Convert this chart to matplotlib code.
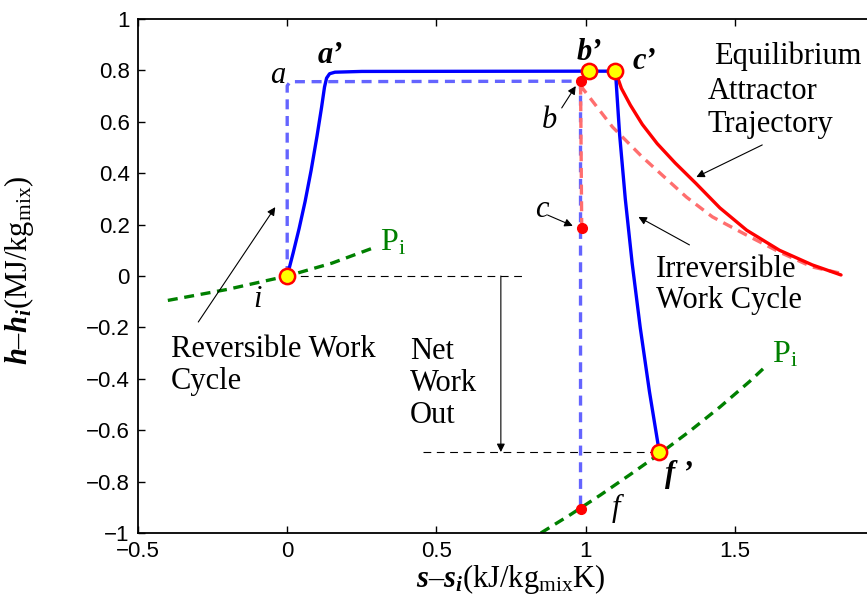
import matplotlib
matplotlib.use("Agg")
import matplotlib.pyplot as plt

plt.rcParams['mathtext.fontset'] = 'custom'
plt.rcParams['mathtext.rm'] = 'Liberation Serif'
plt.rcParams['mathtext.it'] = 'Liberation Serif:italic'
plt.rcParams['mathtext.bf'] = 'Liberation Serif:bold'
plt.rcParams['mathtext.bfit'] = 'Liberation Serif:bold:italic'

# ---------------- data ----------------
# reversible work cycle (dashed light blue): i -> a -> b -> f
rev_s = [0.0, 0.0, 0.01, 0.983, 0.983]
rev_h = [0.0, 0.74, 0.756, 0.758, -0.90]

# irreversible work cycle (solid blue): i -> a' -> b' -> c' -> f'
irr_s = [0.0, 0.02, 0.04, 0.06, 0.08, 0.10, 0.115, 0.125, 0.132, 0.142, 0.16,
         0.25, 1.01, 1.10, 1.114, 1.133, 1.156, 1.183, 1.214, 1.247]
irr_h = [0.0, 0.09, 0.185, 0.29, 0.41, 0.545, 0.655, 0.735, 0.77, 0.787, 0.793,
         0.796, 0.797, 0.797, 0.55, 0.30, 0.05, -0.20, -0.45, -0.685]

# equilibrium attractor trajectory (solid red)
eq_s = [1.10, 1.12, 1.15, 1.19, 1.24, 1.30, 1.37, 1.45, 1.54, 1.65, 1.76, 1.856]
eq_h = [0.797, 0.73, 0.665, 0.59, 0.515, 0.44, 0.36, 0.265, 0.178, 0.10, 0.043, 0.004]

# reversible path c -> b -> relaxation (dashed salmon)
rd_s = [0.987, 0.983, 0.99, 1.09, 1.19, 1.338, 1.425, 1.538, 1.65, 1.76, 1.85]
rd_h = [0.187, 0.758, 0.73, 0.58, 0.463, 0.307, 0.23, 0.16, 0.093, 0.035, 0.012]

# isobars P_i (dashed green)
p1_s = [-0.4, -0.2, 0.0, 0.15, 0.29]
p1_h = [-0.095, -0.052, 0.0, 0.05, 0.11]
p2_s = [0.85, 0.95, 1.05, 1.15, 1.25, 1.35, 1.45, 1.55, 1.605]
p2_h = [-1.0, -0.928, -0.852, -0.772, -0.69, -0.603, -0.51, -0.41, -0.35]

# state points
red_pts_s = [0.983, 0.987, 0.983]          # b, c, f
red_pts_h = [0.758, 0.187, -0.905]
yel_pts_s = [0.0, 1.01, 1.10, 1.247]       # i, b', c', f'
yel_pts_h = [0.0, 0.797, 0.797, -0.685]

# net work out reference levels
net_top = 0.0
net_bot = -0.685

xticks = [-0.5, 0, 0.5, 1, 1.5]
xticklabels = ['\u22120.5', '0', '0.5', '1', '1.5']
yticks = [-1, -0.8, -0.6, -0.4, -0.2, 0, 0.2, 0.4, 0.6, 0.8, 1]
yticklabels = ['\u22121', '\u22120.8', '\u22120.6', '\u22120.4', '\u22120.2', '0',
               '0.2', '0.4', '0.6', '0.8', '1']

# ---------------- figure ----------------
fig = plt.figure(figsize=(8.67, 5.94), dpi=100)
ax = fig.add_axes([138/867, 61/594, 746/867, 514/594])
ax.set_xlim(-0.5, 2.0)
ax.set_ylim(-1, 1)

serif = 'Liberation Serif'
TS = 22

# thin black dashed reference lines
ax.plot([0.0, 0.79], [net_top, net_top], color='k', lw=0.8, dashes=(7, 5))
ax.plot([0.455, 1.247], [net_bot, net_bot], color='k', lw=0.8, dashes=(7, 5))

# isobars
ax.plot(p1_s, p1_h, color='#008000', lw=2.4, dashes=(3, 2))
ax.plot(p2_s, p2_h, color='#008000', lw=2.4, dashes=(3, 2))

# reversible cycle
ax.plot(rev_s, rev_h, color='#6464ff', lw=2.4, dashes=(3, 2))
ax.plot(rd_s, rd_h, color='#ff6e6e', lw=2.4, dashes=(3, 2))

# equilibrium trajectory
ax.plot(eq_s, eq_h, color='#ff0000', lw=2.4, solid_capstyle='round',
        solid_joinstyle='round')

# irreversible cycle
ax.plot(irr_s, irr_h, color='#0000ff', lw=2.4, solid_joinstyle='round')

# points
ax.plot(red_pts_s, red_pts_h, 'o', color='#ff0000', ms=7, mec='#ff0000', zorder=5)
ax.plot(yel_pts_s, yel_pts_h, 'o', mfc='#ffff00', mec='#ff0000', mew=1.8, ms=11, zorder=6)

# state labels
bi = dict(family=serif, fontweight='bold', style='italic', fontsize=TS,
          ha='center', va='baseline')
it = dict(family=serif, style='italic', fontsize=TS, ha='center', va='baseline')
ax.text(0.144, 0.829, 'a\u2019', **bi)
ax.text(1.013, 0.84, 'b\u2019', **bi)
ax.text(1.197, 0.805, 'c\u2019', **bi)
ax.text(1.314, -0.80, 'f \u2019', **bi)
ax.text(-0.033, 0.751, 'a', **it)
ax.text(0.88, 0.576, 'b', **it)
ax.text(0.853, 0.23, 'c', **it)
ax.text(-0.10, -0.12, 'i', **it)
ax.text(1.10, -0.934, 'f', **it)

# P_i labels
ax.text(0.311, 0.101, r'P$_{\mathrm{i}}$', family=serif, fontsize=23,
        color='#008000', ha='left', va='baseline')
ax.text(1.625, -0.335, r'P$_{\mathrm{i}}$', family=serif, fontsize=23,
        color='#008000', ha='left', va='baseline')

# descriptive text
tx = dict(family=serif, fontsize=TS, ha='left', va='top')
ax.text(-0.391, -0.228, 'Reversible Work\nCycle', linespacing=1.15, **tx)
ax.text(0.411, -0.236, 'Net\nWork\nOut', linespacing=1.15, **tx)
ax.text(1.431, 0.912, 'Equilibrium', **tx)
ax.text(1.408, 0.775, 'Attractor\nTrajectory', linespacing=1.18, **tx)
ax.text(1.237, 0.083, 'Irreversible\nWork Cycle', linespacing=1.12, **tx)

# arrows
ap = dict(arrowstyle='-|>', color='k', lw=0.8, mutation_scale=12, shrinkA=0, shrinkB=0)
ax.annotate('', xy=(0.967, 0.739), xytext=(0.92, 0.654), arrowprops=ap)
ax.annotate('', xy=(0.957, 0.195), xytext=(0.873, 0.237), arrowprops=ap)
ax.annotate('', xy=(-0.04, 0.268), xytext=(-0.298, -0.179), arrowprops=ap)
ax.annotate('', xy=(1.371, 0.385), xytext=(1.592, 0.51), arrowprops=ap)
ax.annotate('', xy=(1.177, 0.23), xytext=(1.348, 0.121), arrowprops=ap)
ax.annotate('', xy=(0.716, net_bot), xytext=(0.716, net_top), arrowprops=ap)

# axes styling
ax.set_xticks(xticks)
ax.set_xticklabels(xticklabels)
ax.set_yticks(yticks)
ax.set_yticklabels(yticklabels)
ax.tick_params(direction='in', length=5, width=1, top=True, right=True,
               labelsize=16, pad=6)
for lab in ax.get_xticklabels() + ax.get_yticklabels():
    lab.set_family('Liberation Sans')
for sp in ax.spines.values():
    sp.set_linewidth(1.3)

ax.set_xlabel(r'$\mathbfit{s}$' + '\u2013' + r'$\mathbfit{s}_{\mathbfit{i}}$(kJ/kg$_{\mathrm{mix}}$K)',
              family=serif, fontsize=TS)
ax.xaxis.set_label_coords(0.5, -0.056)
ax.set_ylabel(r'$\mathbfit{h}$' + '\u2013' + r'$\mathbfit{h}_{\mathbfit{i}}$(MJ/kg$_{\mathrm{mix}}$)',
              family=serif, fontsize=TS)
ax.yaxis.set_label_coords(-0.137, 0.51)

fig.savefig('out.png', dpi=100)
